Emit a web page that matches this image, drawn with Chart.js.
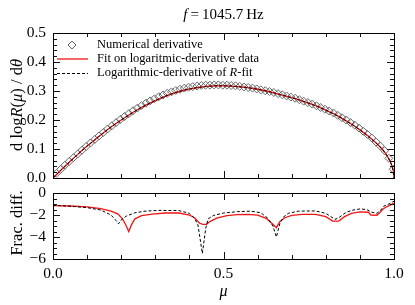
<!DOCTYPE html>
<html>
<head>
<meta charset="utf-8">
<script src="https://cdn.jsdelivr.net/npm/chart.js@4.4.0/dist/chart.umd.min.js"></script>
<style>
  body { margin: 0; background: #fff; }
  #wrap { position: relative; width: 415px; height: 305px; }
  #wrap canvas { position: absolute; left: 0; top: 0; }
</style>
</head>
<body>
<div id="wrap">
  <canvas id="topChart" width="415" height="305"></canvas>
  <canvas id="bottomChart" width="415" height="305"></canvas>
</div>
<script>
// Numerical derivative (diamonds)
const numMu = [0.010, 0.0225, 0.035, 0.0475, 0.060, 0.0725, 0.085, 0.0975, 0.110, 0.1225,
  0.135, 0.1475, 0.160, 0.1725, 0.185, 0.1975, 0.210, 0.2225, 0.235, 0.2475,
  0.260, 0.2725, 0.285, 0.2975, 0.310, 0.3225, 0.335, 0.3475, 0.360, 0.3725,
  0.385, 0.3975, 0.410, 0.4225, 0.435, 0.4475, 0.460, 0.4725, 0.485, 0.4975,
  0.510, 0.5225, 0.535, 0.5475, 0.560, 0.5725, 0.585, 0.5975, 0.610, 0.6225,
  0.635, 0.6475, 0.660, 0.6725, 0.685, 0.6975, 0.710, 0.7225, 0.735, 0.7475,
  0.760, 0.7725, 0.785, 0.7975, 0.810, 0.8225, 0.835, 0.8475, 0.860, 0.8725,
  0.885, 0.8975, 0.910, 0.9225, 0.935, 0.9475, 0.960, 0.9725, 0.985, 0.9975];
const numVal = [0.016, 0.030, 0.044, 0.057, 0.070, 0.083, 0.096, 0.109, 0.121, 0.133,
  0.145, 0.157, 0.169, 0.180, 0.191, 0.202, 0.212, 0.222, 0.232, 0.241,
  0.250, 0.258, 0.266, 0.273, 0.280, 0.286, 0.292, 0.297, 0.302, 0.306,
  0.310, 0.313, 0.315, 0.317, 0.319, 0.320, 0.320, 0.321, 0.321, 0.320,
  0.320, 0.319, 0.318, 0.316, 0.314, 0.312, 0.310, 0.307, 0.304, 0.301,
  0.298, 0.295, 0.291, 0.287, 0.283, 0.279, 0.275, 0.270, 0.265, 0.260,
  0.255, 0.249, 0.243, 0.237, 0.231, 0.224, 0.216, 0.208, 0.200, 0.191,
  0.182, 0.172, 0.161, 0.150, 0.138, 0.124, 0.110, 0.094, 0.068, 0.030];

// Fit on logarithmic-derivative data (red) and log-derivative of R-fit (dashed)
const fitMu = [0, 0.025, 0.05, 0.075, 0.1, 0.125, 0.15, 0.175, 0.2, 0.225, 0.25, 0.275,
  0.3, 0.325, 0.35, 0.375, 0.4, 0.425, 0.45, 0.475, 0.5, 0.525, 0.55, 0.575, 0.6, 0.625,
  0.65, 0.675, 0.7, 0.725, 0.75, 0.775, 0.8, 0.825, 0.85, 0.875, 0.9, 0.925, 0.95,
  0.965, 0.975, 0.985, 0.99, 0.995, 0.998, 1.0];
const fitVal = [0, 0.029, 0.057, 0.084, 0.110, 0.134, 0.158, 0.180, 0.200, 0.219, 0.237, 0.253,
  0.267, 0.280, 0.291, 0.300, 0.307, 0.312, 0.316, 0.318, 0.318, 0.317, 0.314, 0.311, 0.306, 0.300,
  0.293, 0.285, 0.277, 0.268, 0.258, 0.247, 0.234, 0.220, 0.204, 0.186, 0.166, 0.144, 0.118,
  0.100, 0.085, 0.066, 0.054, 0.038, 0.024, 0.0];
const rfitVal = [0, 0.029, 0.057, 0.084, 0.110, 0.134, 0.158, 0.180, 0.200, 0.219, 0.237, 0.253,
  0.267, 0.280, 0.291, 0.300, 0.307, 0.312, 0.316, 0.318, 0.318, 0.317, 0.314, 0.311, 0.306, 0.300,
  0.293, 0.285, 0.277, 0.268, 0.258, 0.247, 0.234, 0.220, 0.204, 0.186, 0.166, 0.144, 0.118,
  0.100, 0.085, 0.066, 0.054, 0.038, 0.024, 0.0];

// Fractional difference (log10), red fit
const diffFitMu = [0, 0.05, 0.1, 0.14, 0.17, 0.19, 0.205, 0.215, 0.222, 0.23, 0.24, 0.26, 0.29,
  0.33, 0.37, 0.40, 0.415, 0.43, 0.44, 0.45, 0.46, 0.48, 0.51, 0.54, 0.57, 0.6, 0.625, 0.645,
  0.655, 0.665, 0.68, 0.7, 0.73, 0.77, 0.8, 0.82, 0.838, 0.855, 0.875, 0.9, 0.925, 0.932,
  0.95, 0.958, 0.97, 0.985, 1.0];
const diffFitVal = [-1.15, -1.18, -1.26, -1.42, -1.65, -1.9, -2.4, -3.0, -3.5, -2.9, -2.35, -2.05, -1.92,
  -1.82, -1.82, -2.0, -2.25, -2.75, -2.85, -2.85, -2.6, -2.28, -2.06, -1.97, -1.94, -2.02, -2.3, -2.85,
  -3.15, -2.6, -2.25, -2.04, -1.95, -1.95, -2.15, -2.55, -2.55, -2.15, -1.85, -1.72, -1.75, -2.0,
  -2.02, -1.8, -1.4, -1.15, -0.95];

// Fractional difference (log10), dashed R-fit
const diffRMu = [0, 0.05, 0.1, 0.14, 0.17, 0.185, 0.192, 0.2, 0.215, 0.24, 0.27, 0.31, 0.37,
  0.4, 0.415, 0.425, 0.438, 0.448, 0.455, 0.47, 0.5, 0.54, 0.58, 0.61, 0.63, 0.645, 0.655,
  0.665, 0.675, 0.69, 0.72, 0.77, 0.8, 0.815, 0.827, 0.84, 0.86, 0.88, 0.9, 0.92, 0.935,
  0.95, 0.96, 0.97, 0.985, 1.0];
const diffRVal = [-1.12, -1.2, -1.33, -1.55, -2.0, -2.5, -2.8, -2.45, -2.1, -1.8, -1.65, -1.58, -1.6,
  -1.85, -2.3, -2.9, -5.5, -3.2, -2.35, -2.05, -1.82, -1.7, -1.65, -1.8, -2.3, -3.0, -4.0,
  -2.8, -2.2, -1.85, -1.65, -1.63, -1.85, -2.15, -2.4, -2.2, -1.75, -1.55, -1.45, -1.5, -1.75,
  -1.85, -1.6, -1.2, -1.0, -0.75];

// axis ticks
const xMajorTicks = [0, 0.5, 1.0];
const xMinorTicks = [0.1, 0.2, 0.3, 0.4, 0.6, 0.7, 0.8, 0.9];
const topYTicks = [0, 0.1, 0.2, 0.3, 0.4, 0.5];
const bottomYTicks = [-6, -4, -2, 0];

const SERIF = '"Liberation Serif", "DejaVu Serif", serif';
const pts = (xs, ys) => xs.map((x, i) => ({ x: x, y: ys[i] }));

function minorList(min, max, step) {
  const out = [];
  for (let v = min; v <= max + 1e-9; v += step) out.push(+v.toFixed(4));
  return out;
}

// frame and inward ticks on all four sides
function frameTicks(yMajor, yMinorStep) {
  return {
    id: 'frameTicks',
    afterDraw(chart) {
      const { ctx, chartArea: a, scales } = chart;
      const xs = scales.x, ys = scales.y;
      ctx.save();
      ctx.strokeStyle = '#111';
      ctx.lineWidth = 1;
      ctx.beginPath();
      const tick = (px, len, horiz) => {
        if (horiz) {
          const x = Math.round(px) + 0.5;
          ctx.moveTo(x, a.bottom); ctx.lineTo(x, a.bottom - len);
          ctx.moveTo(x, a.top); ctx.lineTo(x, a.top + len);
        } else {
          const y = Math.round(px) + 0.5;
          ctx.moveTo(a.left, y); ctx.lineTo(a.left + len, y);
          ctx.moveTo(a.right, y); ctx.lineTo(a.right - len, y);
        }
      };
      xMajorTicks.forEach(v => tick(xs.getPixelForValue(v), 7, true));
      xMinorTicks.forEach(v => tick(xs.getPixelForValue(v), 4, true));
      minorList(ys.min, ys.max, yMinorStep).forEach(v => {
        const major = yMajor.some(m => Math.abs(m - v) < 1e-6);
        tick(ys.getPixelForValue(v), major ? 7 : 4, false);
      });
      ctx.stroke();
      ctx.strokeStyle = '#000';
      ctx.strokeRect(Math.round(a.left) + 0.5, Math.round(a.top) + 0.5,
        Math.round(a.right - a.left), Math.round(a.bottom - a.top));
      ctx.restore();
    }
  };
}

// mixed roman / italic text run
function drawRun(ctx, parts, x, y, size, align) {
  const widths = parts.map(p => {
    ctx.font = (p[1] ? 'italic ' : '') + size + 'px ' + SERIF;
    return ctx.measureText(p[0]).width;
  });
  const total = widths.reduce((s, w) => s + w, 0);
  let cx = align === 'center' ? x - total / 2 : x;
  parts.forEach((p, i) => {
    ctx.font = (p[1] ? 'italic ' : '') + size + 'px ' + SERIF;
    ctx.fillText(p[0], cx, y);
    cx += widths[i];
  });
}

const textPlugin = {
  id: 'texts',
  afterDraw(chart) {
    const ctx = chart.ctx;
    ctx.save();
    ctx.fillStyle = '#000';
    ctx.textBaseline = 'middle';
    ctx.textAlign = 'left';
    // title
    drawRun(ctx, [['f', true], ['\u2009=\u20091045.7\u2009Hz', false]], 223.5, 15, 15, 'center');
    // y label
    ctx.save();
    ctx.translate(18, 105);
    ctx.rotate(-Math.PI / 2);
    drawRun(ctx, [['d log', false], ['R', true], ['(', false], ['\u03bc', true],
      [') / d', false], ['\u03b8', true]], 0, 0, 16.5, 'center');
    ctx.restore();
    // legend
    ctx.strokeStyle = '#666';
    ctx.lineWidth = 1;
    ctx.beginPath();
    ctx.moveTo(72 - 4, 45); ctx.lineTo(72, 45 - 4); ctx.lineTo(72 + 4, 45); ctx.lineTo(72, 45 + 4);
    ctx.closePath();
    ctx.stroke();
    ctx.strokeStyle = '#f01414';
    ctx.lineWidth = 1.3;
    ctx.beginPath(); ctx.moveTo(57, 59); ctx.lineTo(88, 59); ctx.stroke();
    ctx.strokeStyle = '#000';
    ctx.lineWidth = 1;
    ctx.setLineDash([3, 2]);
    ctx.beginPath(); ctx.moveTo(57, 73.5); ctx.lineTo(88, 73.5); ctx.stroke();
    ctx.setLineDash([]);
    drawRun(ctx, [['Numerical derivative', false]], 97, 45, 12.5);
    drawRun(ctx, [['Fit on logaritmic-derivative data', false]], 97, 59, 12.5);
    drawRun(ctx, [['Logarithmic-derivative of ', false], ['R', true], ['-fit', false]], 97, 73, 12.5);
    ctx.restore();
  }
};

const bottomTextPlugin = {
  id: 'bottomTexts',
  afterDraw(chart) {
    const ctx = chart.ctx;
    ctx.save();
    ctx.fillStyle = '#000';
    ctx.textBaseline = 'middle';
    ctx.save();
    ctx.translate(18, 223);
    ctx.rotate(-Math.PI / 2);
    drawRun(ctx, [['Frac. diff.', false]], 0, 0, 16.5, 'center');
    ctx.restore();
    drawRun(ctx, [['\u03bc', true]], 223.5, 292, 16, 'center');
    ctx.restore();
  }
};

const tickFont = { family: SERIF, size: 15.5 };

new Chart(document.getElementById('topChart'), {
  type: 'scatter',
  data: {
    datasets: [
      { data: pts(fitMu, rfitVal), showLine: true, borderColor: '#000', borderWidth: 1,
        borderDash: [3, 2], pointRadius: 0, order: 0 },
      { data: pts(fitMu, fitVal), showLine: true, borderColor: '#f01414', borderWidth: 1.3,
        pointRadius: 0, order: 1, cubicInterpolationMode: 'monotone' },
      { data: pts(numMu, numVal), showLine: false, pointStyle: 'rectRot', pointRadius: 4,
        borderColor: '#666', borderWidth: 1, backgroundColor: 'rgba(0,0,0,0)', order: 2 }
    ]
  },
  options: {
    responsive: false,
    animation: false,
    events: [],
    layout: { padding: { left: 0, right: 21, top: 33, bottom: 127 } },
    plugins: { legend: { display: false }, tooltip: { enabled: false } },
    scales: {
      x: { type: 'linear', min: 0, max: 1, display: false },
      y: {
        min: 0, max: 0.5,
        grid: { display: false, drawTicks: false },
        border: { display: false },
        afterFit: s => { s.width = 53; },
        afterBuildTicks: s => { s.ticks = topYTicks.map(v => ({ value: v })); },
        ticks: { font: tickFont, color: '#000', padding: 7, callback: v => v.toFixed(1) }
      }
    }
  },
  plugins: [frameTicks(topYTicks, 0.02), textPlugin]
});

new Chart(document.getElementById('bottomChart'), {
  type: 'scatter',
  data: {
    datasets: [
      { data: pts(diffRMu, diffRVal), showLine: true, borderColor: '#000', borderWidth: 1,
        borderDash: [3, 2], pointRadius: 0, order: 0 },
      { data: pts(diffFitMu, diffFitVal), showLine: true, borderColor: '#f01414', borderWidth: 1.3,
        pointRadius: 0, order: 1 }
    ]
  },
  options: {
    responsive: false,
    animation: false,
    events: [],
    layout: { padding: { left: 0, right: 21, top: 193, bottom: 0 } },
    plugins: { legend: { display: false }, tooltip: { enabled: false } },
    scales: {
      x: {
        type: 'linear', min: 0, max: 1,
        grid: { display: false, drawTicks: false },
        border: { display: false },
        afterFit: s => { s.height = 46; },
        afterBuildTicks: s => { s.ticks = xMajorTicks.map(v => ({ value: v })); },
        ticks: { font: tickFont, color: '#000', padding: 6, maxRotation: 0,
          callback: v => v.toFixed(1) }
      },
      y: {
        min: -6, max: 0,
        grid: { display: false, drawTicks: false },
        border: { display: false },
        afterFit: s => { s.width = 53; },
        afterBuildTicks: s => { s.ticks = bottomYTicks.map(v => ({ value: v })); },
        ticks: { font: tickFont, color: '#000', padding: 7,
          callback: v => String(v).replace('-', '\u2212') }
      }
    }
  },
  plugins: [frameTicks(bottomYTicks, 0.5), bottomTextPlugin]
});
</script>
</body>
</html>
